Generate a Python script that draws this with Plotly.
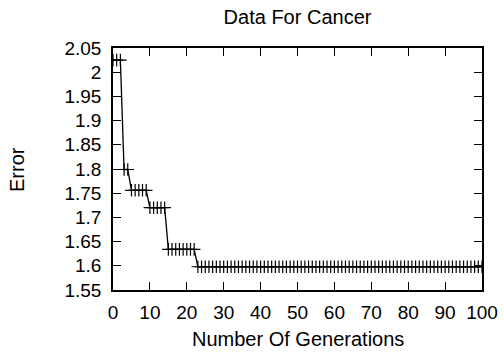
import plotly.graph_objects as go

generations = list(range(0, 101))
error = [
    2.025, 2.025, 2.025,
    1.799, 1.799,
    1.756, 1.756, 1.756, 1.756, 1.756,
    1.720, 1.720, 1.720, 1.720, 1.720,
    1.634, 1.634, 1.634, 1.634, 1.634, 1.634, 1.634, 1.634,
    1.598, 1.598, 1.598, 1.598, 1.598, 1.598, 1.598, 1.598, 1.598, 1.598,
    1.598, 1.598, 1.598, 1.598, 1.598, 1.598, 1.598, 1.598, 1.598, 1.598,
    1.598, 1.598, 1.598, 1.598, 1.598, 1.598, 1.598, 1.598, 1.598, 1.598,
    1.598, 1.598, 1.598, 1.598, 1.598, 1.598, 1.598, 1.598, 1.598, 1.598,
    1.598, 1.598, 1.598, 1.598, 1.598, 1.598, 1.598, 1.598, 1.598, 1.598,
    1.598, 1.598, 1.598, 1.598, 1.598, 1.598, 1.598, 1.598, 1.598, 1.598,
    1.598, 1.598, 1.598, 1.598, 1.598, 1.598, 1.598, 1.598, 1.598, 1.598,
    1.598, 1.598, 1.598, 1.598, 1.598, 1.598, 1.598, 1.598,
]
x_ticks = [0, 10, 20, 30, 40, 50, 60, 70, 80, 90, 100]
y_ticks = [1.55, 1.6, 1.65, 1.7, 1.75, 1.8, 1.85, 1.9, 1.95, 2.0, 2.05]
y_tick_labels = ["1.55", "1.6", "1.65", "1.7", "1.75", "1.8", "1.85", "1.9", "1.95", "2", "2.05"]

W, H = 504, 356
L, R, T, B = 113, 22, 48, 66
FONT = "Liberation Sans, Arial, Helvetica, sans-serif"
TITLE_FONT = dict(family=FONT, size=20, color="black")
TICK_FONT = dict(family=FONT, size=19, color="black")

fig = go.Figure()
fig.add_trace(go.Scatter(
    x=generations, y=error, mode="lines+markers",
    line=dict(color="black", width=1.3),
    marker=dict(symbol="cross-thin", size=9, line=dict(color="black", width=1.2)),
    showlegend=False,
))

fig.update_layout(
    width=W, height=H,
    margin=dict(l=L, r=R, t=T, b=B),
    paper_bgcolor="white", plot_bgcolor="white",
    font=dict(family=FONT, size=19, color="black"),
    title=dict(text="Data For Cancer", x=(L + W - R) / 2 / W, xanchor="center",
               y=1 - 17 / H, yanchor="middle", yref="container",
               font=TITLE_FONT),
    xaxis=dict(range=[0, 100], tickvals=x_ticks, ticks="inside", ticklen=8,
               tickwidth=1.2, tickcolor="black", showline=True, linecolor="black",
               linewidth=1.5, mirror="ticks", showgrid=False, zeroline=False,
               tickfont=TICK_FONT, automargin=False, ticklabelstandoff=4),
    yaxis=dict(range=[1.55, 2.05], tickvals=y_ticks, ticktext=y_tick_labels,
               ticks="inside", ticklen=8, tickwidth=1.2, tickcolor="black",
               showline=True, linecolor="black", linewidth=1.5, mirror="ticks",
               showgrid=False, zeroline=False, tickfont=TICK_FONT,
               automargin=False, ticklabelstandoff=6),
    annotations=[
        dict(text="Number Of Generations", xref="paper", yref="paper",
             x=0.5, y=-(339 - (H - B)) / (H - T - B), xanchor="center",
             yanchor="middle", showarrow=False, font=TITLE_FONT),
        dict(text="Error", xref="paper", yref="paper",
             x=-(L - 17) / (W - L - R), y=0.5, xanchor="center",
             yanchor="middle", showarrow=False, textangle=-90, font=TITLE_FONT),
    ],
)

fig.write_html("out.html")
